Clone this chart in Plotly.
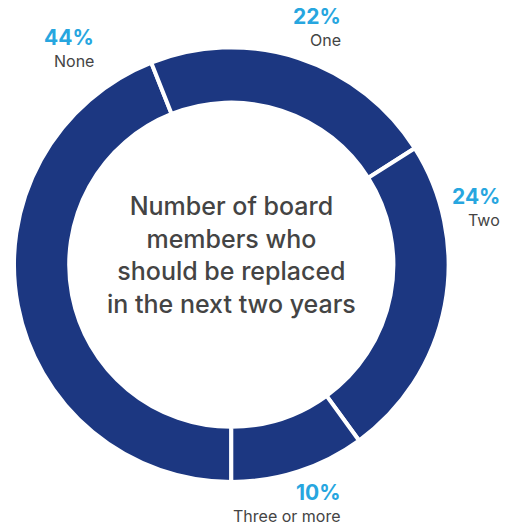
import plotly.graph_objects as go

# Survey answers: how many board members should be replaced
categories = ["None", "One", "Two", "Three or more"]
shares = [44, 22, 24, 10]
pct_labels = ["44%", "22%", "24%", "10%"]

NAVY = "#1c3781"
BLUE = "#27a6df"
GREY = "#444444"

W, H = 518, 527
cx, cy, r = 231.3, 264.7, 217.3  # ring centre and outer radius, in pixels

fig = go.Figure(
    go.Pie(
        labels=categories,
        values=shares,
        sort=False,
        direction="clockwise",
        rotation=180,
        hole=0.746,
        textinfo="none",
        hoverinfo="label+percent",
        marker=dict(colors=[NAVY] * len(categories), line=dict(color="white", width=4)),
        domain=dict(
            x=[(cx - r) / W, (cx + r) / W],
            y=[(H - cy - r) / H, (H - cy + r) / H],
        ),
        showlegend=False,
    )
)

# Right edge and the boundary between percentage and category (pixels from top-left)
label_pos = {
    "None": (95, 50),
    "One": (342, 29),
    "Two": (501, 209),
    "Three or more": (342, 505),
}

annotations = []
for cat, pct in zip(categories, pct_labels):
    x, y = label_pos[cat]
    annotations.append(
        dict(
            x=x / W, y=1 - (y + 1) / H, xref="paper", yref="paper",
            xanchor="right", yanchor="bottom", showarrow=False, borderpad=0,
            text=pct,
            font=dict(family="Inter", size=21, color=BLUE, weight=700),
        )
    )
    annotations.append(
        dict(
            x=x / W, y=1 - y / H, xref="paper", yref="paper",
            xanchor="right", yanchor="top", showarrow=False, borderpad=0,
            text=cat,
            font=dict(family="Inter", size=16, color=GREY),
        )
    )

annotations.append(
    dict(
        x=cx / W, y=1 - 255 / H, xref="paper", yref="paper",
        xanchor="center", yanchor="middle", showarrow=False,
        text="Number of board<br>members who<br>should be replaced<br>in the next two years",
        font=dict(family="Inter", size=25, color=GREY, weight=550),
    )
)

fig.update_layout(
    width=W, height=H,
    margin=dict(l=0, r=0, t=0, b=0),
    paper_bgcolor="white",
    plot_bgcolor="white",
    annotations=annotations,
)

fig.write_html("out.html")
